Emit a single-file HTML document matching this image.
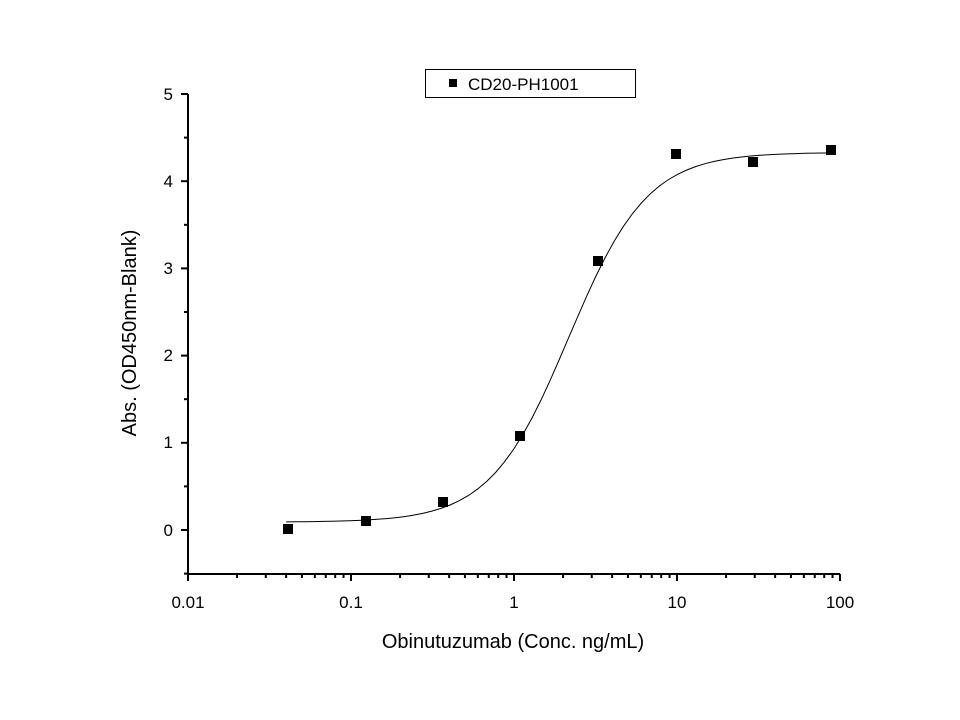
<!DOCTYPE html>
<html><head><meta charset="utf-8"><style>
body{margin:0;background:#fff}
svg{display:block;font-family:"Liberation Sans",sans-serif}
</style></head><body>
<svg id="s" width="960" height="720" xmlns="http://www.w3.org/2000/svg">
<rect width="960" height="720" fill="#fff"/>
<g stroke="#000" stroke-width="2" fill="none">
<line x1="188" y1="94" x2="188" y2="575"/>
<line x1="187" y1="574" x2="840" y2="574"/>
</g>
<g id="ticks" stroke="#000" stroke-width="2"></g>
<g font-size="17" fill="#000">
<text x="173" y="100" text-anchor="end">5</text>
<text x="173" y="187" text-anchor="end">4</text>
<text x="173" y="274" text-anchor="end">3</text>
<text x="173" y="361" text-anchor="end">2</text>
<text x="173" y="448" text-anchor="end">1</text>
<text x="173" y="536" text-anchor="end">0</text>
<text x="188" y="608" text-anchor="middle">0.01</text>
<text x="351" y="608" text-anchor="middle">0.1</text>
<text x="514" y="608" text-anchor="middle">1</text>
<text x="677" y="608" text-anchor="middle">10</text>
<text x="840" y="608" text-anchor="middle">100</text>
</g>
<text x="513" y="648" font-size="20" text-anchor="middle">Obinutuzumab (Conc. ng/mL)</text>
<text transform="translate(136,333) rotate(-90)" font-size="20" text-anchor="middle">Abs. (OD450nm-Blank)</text>
<rect x="425.5" y="69.5" width="210" height="28" fill="#fff" stroke="#000" stroke-width="1"/>
<rect x="449" y="79" width="8" height="8" fill="#000"/>
<text x="468" y="90" font-size="17">CD20-PH1001</text>
<path id="curve" fill="none" stroke="#000" stroke-width="1"/>
<g id="pts" fill="#000">
<rect x="283" y="524" width="10" height="10"/>
<rect x="361" y="516" width="10" height="10"/>
<rect x="438" y="497" width="10" height="10"/>
<rect x="515" y="431" width="10" height="10"/>
<rect x="593" y="256" width="10" height="10"/>
<rect x="671" y="149" width="10" height="10"/>
<rect x="748" y="157" width="10" height="10"/>
<rect x="826" y="145" width="10" height="10"/>
</g>
</svg>
<script>
var X=function(v){return 188+163*(Math.log10(v)+2)};
var Y=function(v){return 530-87.2*v};
var t="";
for(var d=0;d<4;d++){for(var k=1;k<10;k++){var x=X(Math.pow(10,d-2)*k);var L=(k==1)?7:4;t+='<line x1="'+x+'" y1="574" x2="'+x+'" y2="'+(574+L)+'"/>';}}
t+='<line x1="840" y1="574" x2="840" y2="581"/>';
for(var v=-0.5;v<=5;v+=0.5){var y=Y(v);var L=(Math.abs(v-Math.round(v))<0.01)?7:4;t+='<line x1="188" y1="'+y+'" x2="'+(188-L)+'" y2="'+y+'"/>';}
document.getElementById('ticks').innerHTML=t;
var p="";
for(var i=0;i<=60;i++){var lx=Math.log10(0.04)+i*(Math.log10(90)-Math.log10(0.04))/60;var c=Math.pow(10,lx);
var y=0.09+4.24/(1+Math.pow(2.17/c,1.8));p+=(i?"L":"M")+X(c).toFixed(1)+","+Y(y).toFixed(1);}
document.getElementById('curve').setAttribute('d',p);
</script>
</body></html>
